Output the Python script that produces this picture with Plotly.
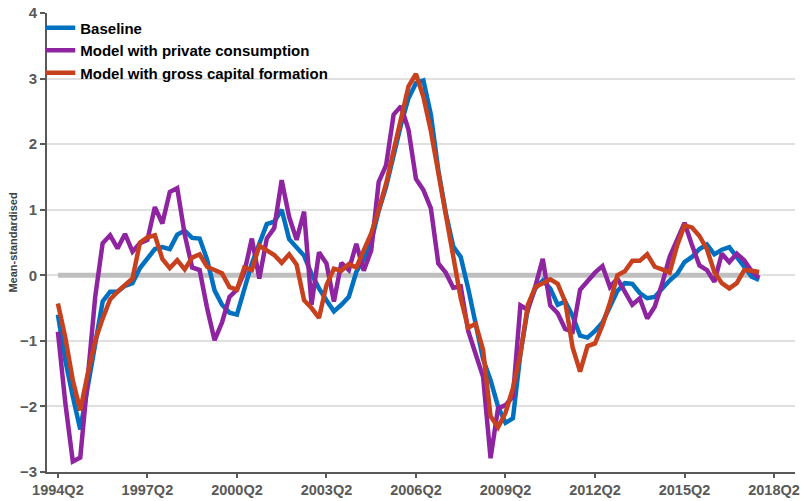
import plotly.graph_objects as go

# Quarter labels (1994Q2 .. 2018Q2)
quarters = [f"{1994 + (k + 1) // 4}Q{(k + 1) % 4 + 1}" for k in range(97)]
tick_labels = quarters[::12]

baseline = [
    -0.60, -1.30, -1.85, -2.35, -1.70, -1.03, -0.40, -0.25, -0.25, -0.16,
    -0.12, 0.11, 0.26, 0.40, 0.43, 0.40, 0.62, 0.68, 0.57, 0.56,
    0.24, -0.23, -0.45, -0.57, -0.60, -0.23, 0.18, 0.48, 0.78, 0.82,
    1.00, 0.55, 0.43, 0.30, 0.02, -0.20, -0.38, -0.55, -0.45, -0.33,
    0.05, 0.25, 0.52, 0.98, 1.35, 1.85, 2.30, 2.70, 2.93, 2.97,
    2.45, 1.60, 0.95, 0.44, 0.28, -0.20, -0.75, -1.28, -1.60, -2.00,
    -2.25, -2.18, -1.20, -0.50, -0.20, -0.08, -0.20, -0.45, -0.40, -0.62,
    -0.92, -0.95, -0.85, -0.72, -0.48, -0.24, -0.12, -0.13, -0.27, -0.35,
    -0.33, -0.20, -0.08, 0.02, 0.20, 0.28, 0.40, 0.47, 0.32, 0.39,
    0.43, 0.28, 0.12, -0.02, -0.07,
]

private_consumption = [
    -0.86, -1.95, -2.84, -2.78, -1.57, -0.33, 0.49, 0.61, 0.41, 0.63,
    0.36, 0.49, 0.54, 1.04, 0.79, 1.27, 1.33, 0.62, 0.12, 0.08,
    -0.50, -0.99, -0.72, -0.33, -0.22, 0.05, 0.56, -0.05, 0.56, 0.72,
    1.45, 0.89, 0.54, 0.97, -0.45, 0.35, 0.18, -0.40, 0.19, 0.08,
    0.48, 0.07, 0.38, 1.42, 1.68, 2.45, 2.58, 2.22, 1.47, 1.30,
    1.02, 0.18, 0.04, -0.19, -0.17, -0.85, -1.20, -1.55, -2.79, -2.03,
    -1.98, -1.85, -0.46, -0.53, -0.17, 0.25, -0.46, -0.58, -0.82, -0.86,
    -0.22, -0.08, 0.04, 0.14, -0.18, -0.05, -0.24, -0.45, -0.35, -0.66,
    -0.48, -0.13, 0.28, 0.54, 0.80, 0.46, 0.15, 0.08, -0.10, 0.33,
    0.20, 0.33, 0.23, 0.06, -0.04,
]

gross_capital = [
    -0.43, -0.95, -1.60, -2.06, -1.50, -1.00, -0.66, -0.37, -0.25, -0.16,
    -0.05, 0.50, 0.58, 0.61, 0.25, 0.11, 0.23, 0.09, 0.27, 0.32,
    0.13, 0.08, 0.03, -0.18, -0.22, 0.12, 0.08, 0.45, 0.37, 0.31,
    0.19, 0.32, 0.16, -0.38, -0.50, -0.65, -0.15, 0.10, 0.07, 0.17,
    0.12, 0.36, 0.64, 1.00, 1.40, 1.90, 2.43, 2.88, 3.07, 2.72,
    2.20, 1.55, 0.87, 0.25, -0.35, -0.80, -0.74, -1.14, -2.15, -2.32,
    -2.10, -1.72, -1.20, -0.45, -0.18, -0.12, -0.06, -0.13, -0.40, -1.10,
    -1.47, -1.08, -1.04, -0.76, -0.42, 0.00, 0.06, 0.22, 0.22, 0.32,
    0.13, 0.09, 0.04, 0.45, 0.76, 0.73, 0.60, 0.40, 0.05, -0.12,
    -0.20, -0.12, 0.08, 0.07, 0.05,
]

n = len(baseline)
x_idx = list(range(n))
zero_ref = [0] * n

BLUE = "#0070C0"
PURPLE = "#8E24A0"
ORANGE = "#C8411E"
AXIS = "#595959"
FONT = "Liberation Sans"

fig = go.Figure()
fig.add_trace(go.Scatter(x=x_idx, y=zero_ref, mode="lines", showlegend=False,
                         line=dict(color="#BFBFBF", width=5), hoverinfo="skip"))
fig.add_trace(go.Scatter(x=x_idx, y=baseline, mode="lines", name="Baseline",
                         line=dict(color=BLUE, width=4.5)))
fig.add_trace(go.Scatter(x=x_idx, y=private_consumption, mode="lines",
                         name="Model with private consumption",
                         line=dict(color=PURPLE, width=4.5)))
fig.add_trace(go.Scatter(x=x_idx, y=gross_capital, mode="lines",
                         name="Model with gross capital formation",
                         line=dict(color=ORANGE, width=4.5)))

fig.update_layout(
    width=801, height=501,
    margin=dict(l=47, r=6, t=13, b=29, autoexpand=False),
    paper_bgcolor="white", plot_bgcolor="white",
    font=dict(family=FONT, color=AXIS, size=14, weight="bold"),
    legend=dict(x=-0.009, y=1.003, xanchor="left", yanchor="top",
                bgcolor="rgba(0,0,0,0)",
                font=dict(family=FONT, size=15, color="black", weight="bold"),
                tracegroupgap=0, itemwidth=30),
    xaxis=dict(
        range=[-1.46, 98.81],
        tickmode="array",
        tickvals=list(range(0, len(quarters), 12)),
        ticktext=tick_labels,
        showgrid=False, zeroline=False,
        showline=True, linecolor=AXIS, linewidth=2,
        ticks="outside", ticklen=4, tickwidth=2, tickcolor=AXIS,
        tickfont=dict(family=FONT, size=14.5, color=AXIS, weight="bold"),
    ),
    yaxis=dict(
        range=[-3, 4], dtick=1, tick0=0,
        showgrid=True, gridcolor="#E0E0E0", gridwidth=2,
        zeroline=False,
        showline=True, linecolor=AXIS, linewidth=2,
        ticks="outside", ticklen=5, tickwidth=2, tickcolor=AXIS,
        tickfont=dict(family=FONT, size=15, color=AXIS, weight="bold"),
        title=dict(text="Mean-standardised", standoff=0,
                   font=dict(family=FONT, size=11, color="#404040", weight="bold")),
    ),
)

fig.write_html(
    "out.html",
    config={"displayModeBar": False},
    post_script="document.body.style.margin='0';document.body.style.padding='0';",
)
